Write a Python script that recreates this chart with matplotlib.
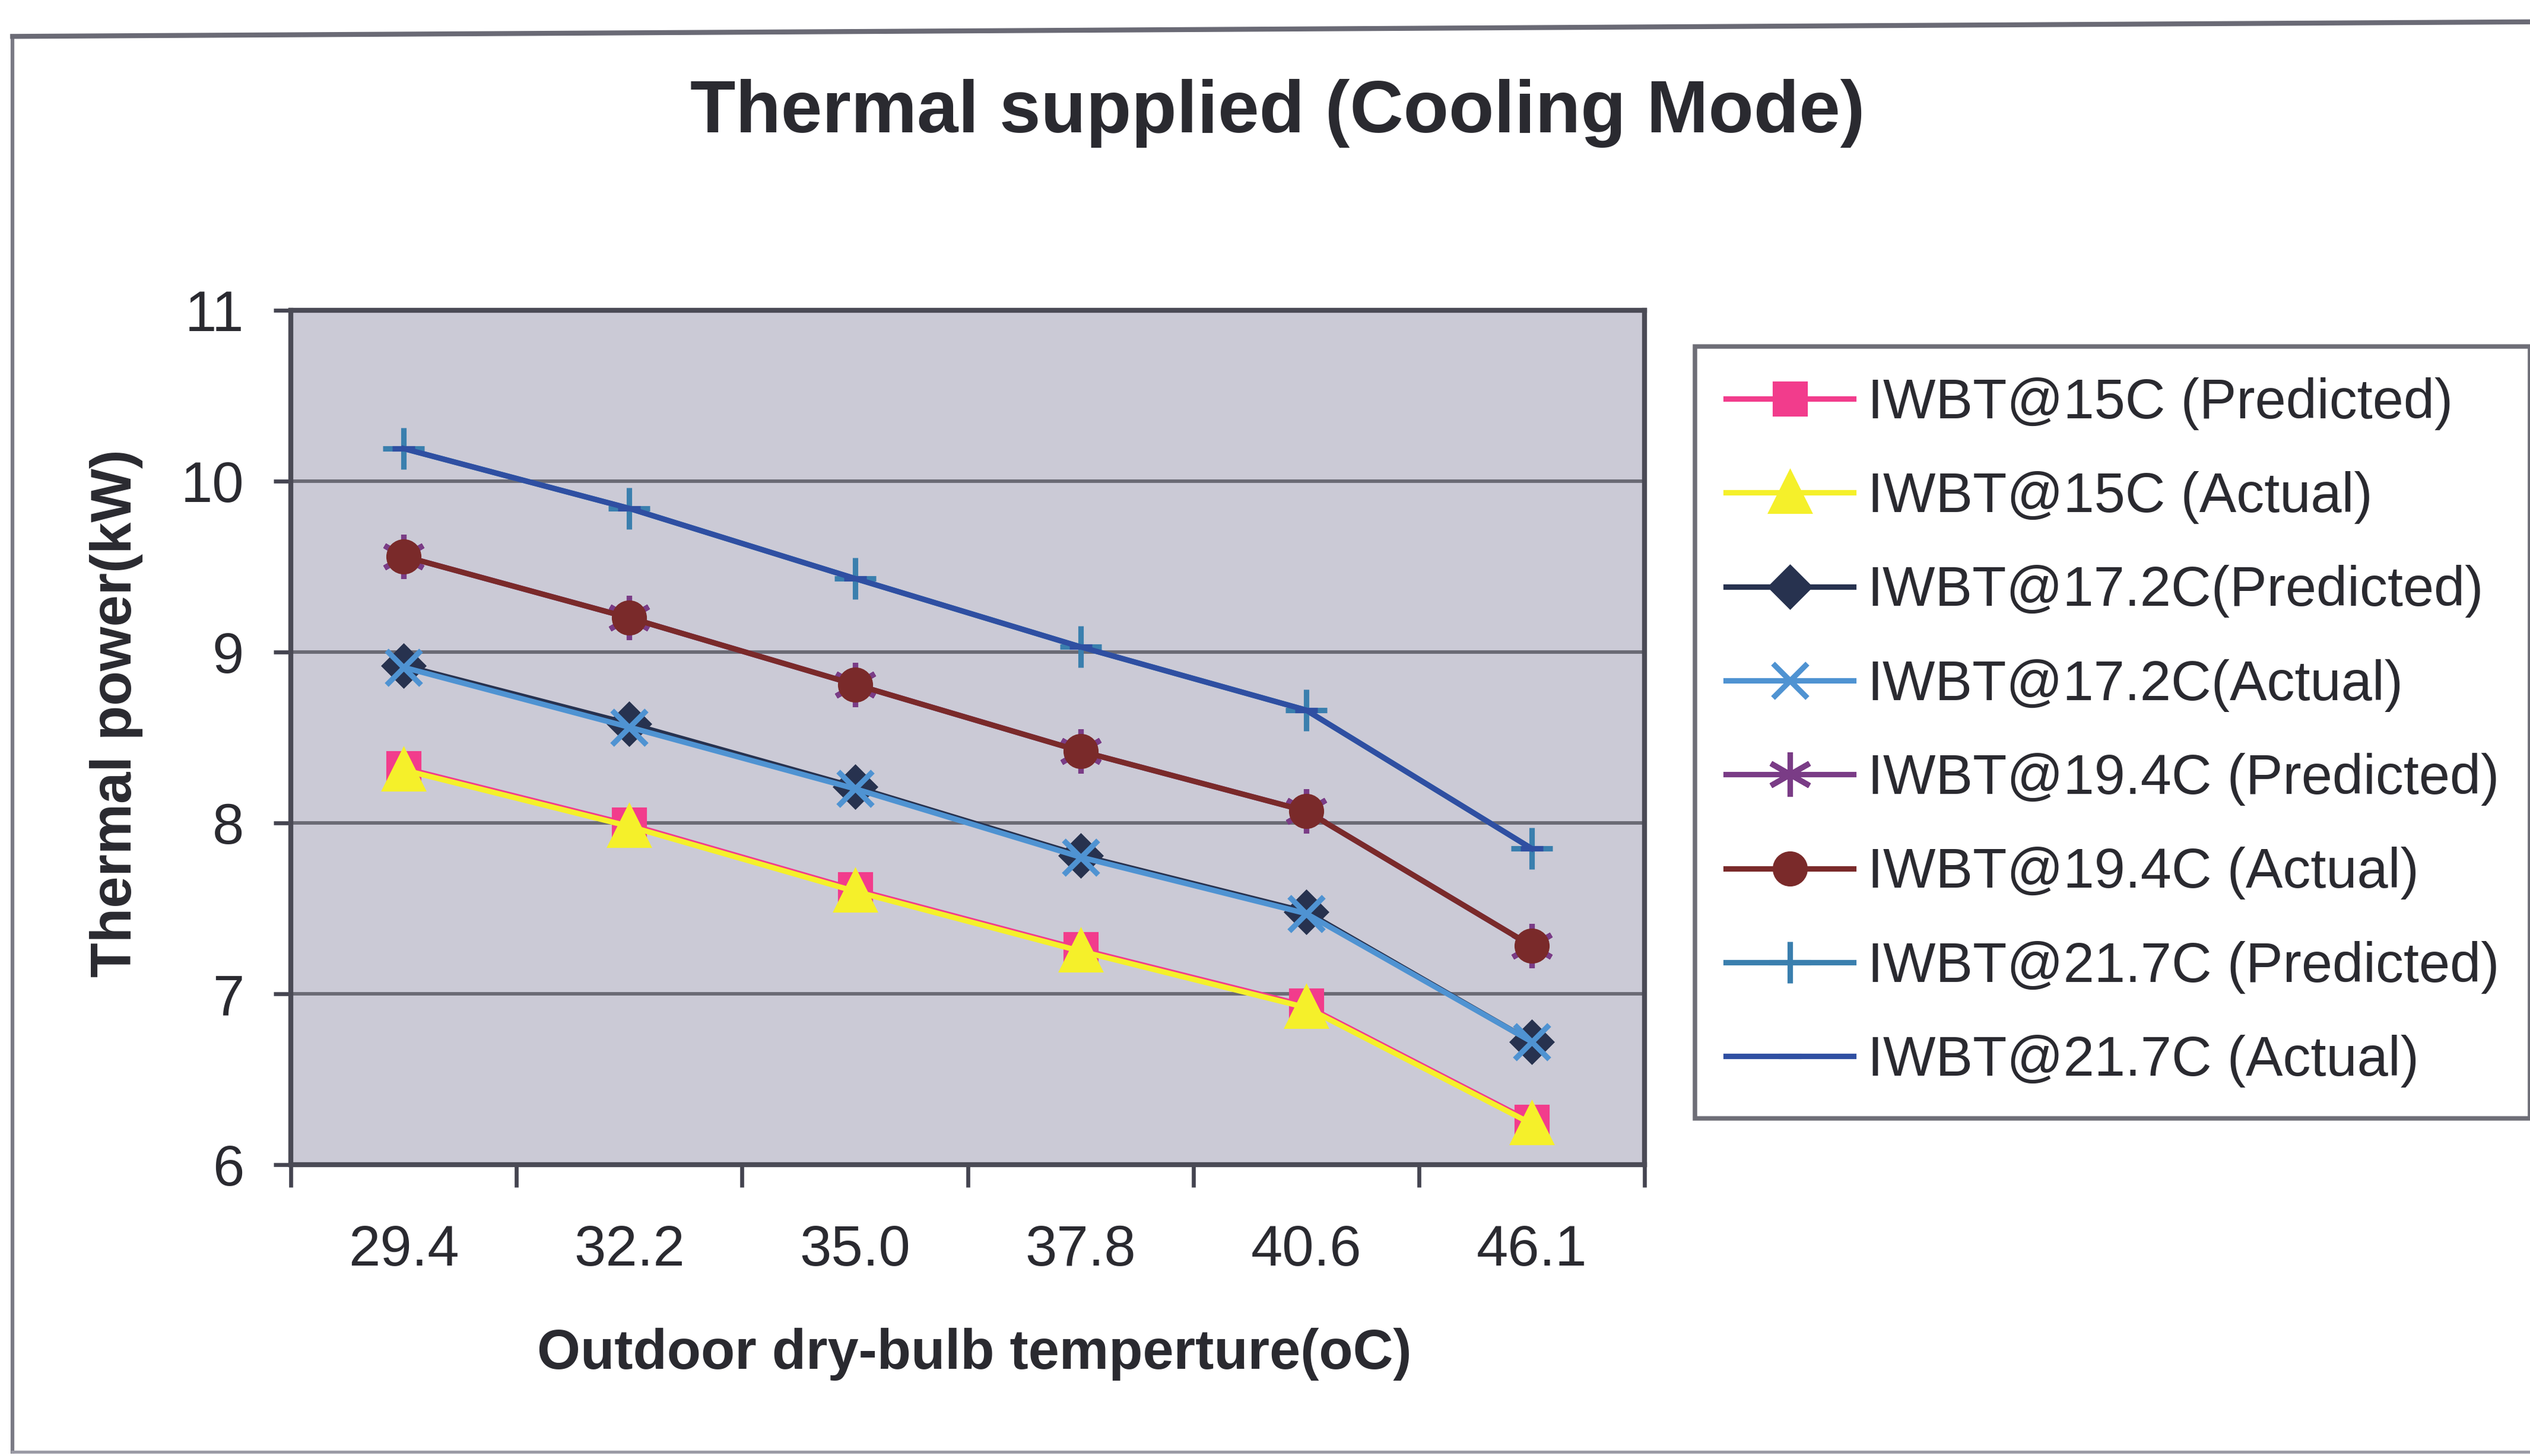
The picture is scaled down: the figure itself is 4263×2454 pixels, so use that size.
import numpy as np
import matplotlib.pyplot as plt
from matplotlib.lines import Line2D

plt.rcParams['font.family'] = ['Liberation Sans', 'DejaVu Sans']

temps = ['29.4', '32.2', '35.0', '37.8', '40.6', '46.1']

iwbt15_pred = [8.32, 7.99, 7.61, 7.26, 6.93, 6.25]
iwbt15_act = [8.31, 7.98, 7.60, 7.25, 6.92, 6.24]
iwbt172_pred = [8.92, 8.58, 8.21, 7.81, 7.48, 6.72]
iwbt172_act = [8.91, 8.56, 8.20, 7.80, 7.47, 6.72]
iwbt194_pred = [9.56, 9.20, 8.81, 8.42, 8.07, 7.28]
iwbt194_act = [9.56, 9.20, 8.81, 8.42, 8.07, 7.28]
iwbt217_pred = [10.19, 9.84, 9.43, 9.03, 8.66, 7.85]
iwbt217_act = [10.19, 9.84, 9.43, 9.03, 8.66, 7.85]

# label, values, colour, marker, marker size, zorder
series = [
    ('IWBT@15C (Predicted)', iwbt15_pred, '#f23c8c', 's', 12, 3),
    ('IWBT@15C (Actual)', iwbt15_act, '#f5f02a', '^', 15, 3.1),
    ('IWBT@17.2C(Predicted)', iwbt172_pred, '#27324f', 'D', 11, 3.2),
    ('IWBT@17.2C(Actual)', iwbt172_act, '#4f93d2', 'x', 14, 3.3),
    ('IWBT@19.4C (Predicted)', iwbt194_pred, '#7a3c86', (6, 2, 0), 18, 3.4),
    ('IWBT@19.4C (Actual)', iwbt194_act, '#7a2a2a', 'o', 12, 3.5),
    ('IWBT@21.7C (Predicted)', iwbt217_pred, '#3a7fae', '+', 17, 3.6),
    ('IWBT@21.7C (Actual)', iwbt217_act, '#2f4fa2', '_', 9, 3.7),
]

fig = plt.figure(figsize=(4263 / 300, 2454 / 300), dpi=300)
ax = fig.add_axes([0.115, 0.200, 0.535, 0.587])
ax.set_facecolor('#cbcad6')

x = np.arange(len(temps))
handles = []
for label, vals, color, marker, ms, z in series:
    line, = ax.plot(x, vals, color=color, lw=2.2, marker=marker, markersize=ms,
                    markerfacecolor=color, markeredgecolor=color, markeredgewidth=2.2,
                    label=label, zorder=z)
    handles.append(line)

ax.set_xlim(-0.5, len(temps) - 0.5)
ax.set_ylim(6, 11)
ax.set_yticks(np.arange(6, 12, 1))
ax.yaxis.grid(True, color='#6a6a74', lw=1.4)
ax.set_axisbelow(True)

# category axis: tick marks between categories, labels centred
ax.set_xticks(np.arange(-0.5, len(temps), 1))
ax.set_xticklabels([''] * (len(temps) + 1))
ax.set_xticks(x, minor=True)
ax.set_xticklabels(temps, minor=True)
ax.tick_params(axis='x', which='major', length=9, width=1.6, color='#444450', direction='out')
ax.tick_params(axis='x', which='minor', length=0, pad=24, labelsize=23, labelcolor='#2a2a30')
ax.tick_params(axis='y', length=7, width=1.6, color='#444450', pad=12, labelsize=23,
               labelcolor='#2a2a30')

for side in ['top', 'right', 'bottom', 'left']:
    ax.spines[side].set_color('#4a4a55')
    ax.spines[side].set_linewidth(2.0)

fig.text(0.505, 0.922, 'Thermal supplied (Cooling Mode)', ha='center', va='center',
         fontsize=30, fontweight='bold', color='#2a2a30')
fig.text(0.385, 0.070, 'Outdoor dry-bulb temperture(oC)', ha='center', va='center',
         fontsize=22.5, fontweight='bold', color='#2a2a30')
fig.text(0.046, 0.51, 'Thermal power(kW)', ha='center', va='center', rotation=90,
         fontsize=23, fontweight='bold', color='#2a2a30')

leg = fig.legend(handles=handles, loc='upper left', bbox_to_anchor=(0.670, 0.762),
                 fontsize=22.5, frameon=True, fancybox=False, handlelength=2.3,
                 handletextpad=0.25, labelspacing=0.74, borderpad=0.55, borderaxespad=0)
leg.get_frame().set_edgecolor('#4a4a55')
leg.get_frame().set_linewidth(1.8)
for t in leg.get_texts():
    t.set_color('#2a2a30')

# outer chart border
fig.add_artist(Line2D([0.005, 0.005], [0.003, 0.975], color='#7a7a85', lw=1.5))
fig.add_artist(Line2D([0.005, 1.0], [0.975, 0.985], color='#6a6a75', lw=2.0))
fig.add_artist(Line2D([0.005, 1.0], [0.003, 0.003], color='#9a9aa5', lw=1.2))

fig.savefig('out.png', dpi=300, facecolor='white')
